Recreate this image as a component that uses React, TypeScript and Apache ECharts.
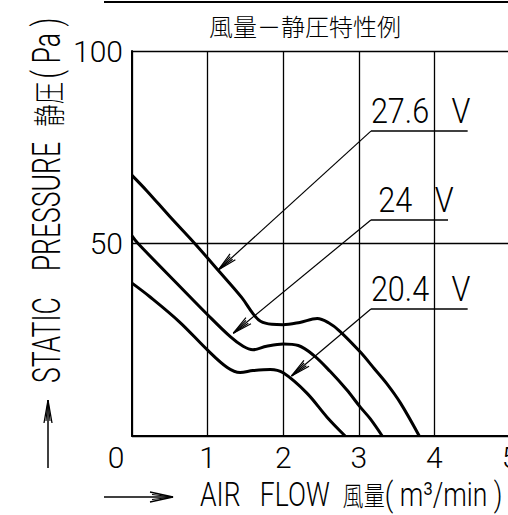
import React, { useEffect, useRef } from "react";
import * as echarts from "echarts";

// ---- data ----
const xMin = 0;
const xMax = 5;
const xInterval = 1;
const yMin = 0;
const yMax = 100;
const yInterval = 50;

const seriesNames = ["27.6 V", "24 V", "20.4 V"];

const flow276: number[][] = [
  [0, 67.7], [0.2, 63.6], [0.5, 57], [0.83, 50], [1.16, 42.6], [1.45, 36],
  [1.6, 31.8], [1.7, 29.8], [1.85, 29], [2.0, 28.9], [2.22, 29.5], [2.45, 30.5],
  [2.6, 29.4], [2.75, 27.2], [3.02, 21.8], [3.2, 17.6], [3.37, 13.6], [3.55, 8.6], [3.8, 0],
];
const flow24: number[][] = [
  [0, 52], [0.08, 50], [0.63, 38.9], [1.0, 31.5], [1.3, 25.8], [1.47, 23.3],
  [1.6, 22.4], [1.78, 23.3], [2.0, 23.9], [2.2, 23.5], [2.4, 21], [2.62, 16.8],
  [2.84, 12], [3.02, 7.5], [3.15, 4.5], [3.31, 0],
];
const flow204: number[][] = [
  [0, 39.7], [0.24, 36.1], [0.63, 29.6], [1.0, 22.3], [1.26, 17.8], [1.43, 16.5],
  [1.6, 17.0], [1.83, 17.3], [2.0, 16.4], [2.31, 11.2], [2.58, 4.9], [2.82, 0],
];

// annotation labels (text, arrow tip on curve, label anchor, underline end) in data units
const annText = ["27.6   V", " 24   V", "20.4   V"];
const annTip: number[][] = [[1.14, 43.1], [1.34, 26.7], [2.11, 15.6]];
const annLabel: number[][] = [[3.16, 79.2], [3.16, 56.1], [3.16, 33.0]];
const annEnd = [4.44, 4.18, 4.44];

const titleText = "風量－静圧特性例";
const yNameMain = "STATIC    PRESSURE  ";
const yNameCjk = "静圧";
const yNameUnit = "( Pa )";
const xNameMain = "AIR   FLOW  ";
const xNameCjk = "風量";
const xNameUnit = "( m³/min )";

const LAT_FONT = 'Roboto, "Liberation Sans Narrow", "DejaVu Sans Condensed", sans-serif';
const CJK_FONT = '"Noto Sans CJK JP", "Noto Sans CJK SC", sans-serif';

export default function App() {
  const ref = useRef<HTMLDivElement>(null);

  useEffect(() => {
    if (!ref.current) return;
    const chart = echarts.init(ref.current, null, { renderer: "svg" });

    const curves = [flow276, flow24, flow204];
    const annData = annTip.map((t, i) => [t[0], t[1], annLabel[i][0], annLabel[i][1], annEnd[i]]);

    const option: any = {
      animation: false,
      grid: { left: 132, right: -2, top: 51, bottom: 79, containLabel: false, outerBoundsMode: "none" },
      xAxis: {
        type: "value",
        min: xMin,
        max: xMax,
        interval: xInterval,
        axisLine: { show: true, onZero: false, lineStyle: { color: "#000", width: 2 } },
        axisTick: { show: false },
        splitLine: { show: true, lineStyle: { color: "#000", width: 1.3 } },
        axisLabel: {
          color: "#000",
          fontFamily: LAT_FONT,
          fontWeight: 300,
          fontSize: 30,
          margin: 6,
          hideOverlap: false,
          formatter: (v: number) => (v === 0 ? "{z|0}" : String(v)),
          rich: {
            z: { fontFamily: LAT_FONT, fontWeight: 300, fontSize: 30, color: "#000", padding: [0, 32, 0, 0] },
          },
        },
      },
      yAxis: {
        type: "value",
        min: yMin,
        max: yMax,
        interval: yInterval,
        axisLine: { show: true, onZero: false, lineStyle: { color: "#000", width: 2 } },
        axisTick: { show: false },
        splitLine: { show: true, lineStyle: { color: "#000", width: 1.3 } },
        axisLabel: {
          color: "#000",
          fontFamily: LAT_FONT,
          fontWeight: 300,
          fontSize: 30,
          margin: 9,
          showMinLabel: false,
        },
      },
      series: [
        ...curves.map((d, i) => ({
          type: "line",
          name: seriesNames[i],
          data: d,
          smooth: 0.35,
          symbol: "none",
          showSymbol: false,
          lineStyle: { color: "#000", width: 3 },
          z: 3,
        })),
        {
          type: "custom",
          name: "labels",
          data: annData,
          encode: { x: [0, 2, 4], y: [1, 3] },
          clip: false,
          silent: true,
          z: 4,
          renderItem: (params: any, api: any) => {
            const i = params.dataIndex;
            const tip = api.coord([api.value(0), api.value(1)]);
            const lab = api.coord([api.value(2), api.value(3)]);
            const end = api.coord([api.value(4), api.value(3)]);
            const dx = lab[0] - tip[0];
            const dy = lab[1] - tip[1];
            const L = Math.hypot(dx, dy);
            const ux = dx / L;
            const uy = dy / L;
            const barb = (a: number, len: number) => {
              const c = Math.cos(a);
              const s = Math.sin(a);
              return [tip[0] + len * (ux * c - uy * s), tip[1] + len * (ux * s + uy * c)];
            };
            const st = { stroke: "#000", lineWidth: 1.2, fill: "none" };
            return {
              type: "group",
              children: [
                { type: "line", shape: { x1: lab[0], y1: lab[1], x2: tip[0], y2: tip[1] }, style: st },
                { type: "line", shape: { x1: lab[0], y1: lab[1], x2: end[0], y2: end[1] }, style: { stroke: "#000", lineWidth: 1.5 } },
                { type: "polyline", shape: { points: [barb(0.2, 20), tip, barb(-0.2, 20)] }, style: st },
                { type: "polyline", shape: { points: [barb(0.1, 18), tip, barb(-0.1, 18)] }, style: st },
                {
                  type: "text",
                  x: lab[0],
                  y: lab[1] - 20,
                  scaleX: 0.85,
                  style: {
                    text: annText[i],
                    fill: "#000",
                    fontFamily: LAT_FONT,
                    fontWeight: 300,
                    fontSize: 36,
                    align: "left",
                    verticalAlign: "middle",
                  },
                },
              ],
            };
          },
        },
      ],
      graphic: [
        { type: "line", shape: { x1: 104, y1: 2, x2: 510, y2: 2 }, style: { stroke: "#000", lineWidth: 2 } },
        {
          type: "text",
          x: 305,
          y: 25,
          style: {
            text: titleText,
            fill: "#000",
            fontFamily: CJK_FONT,
            fontWeight: 300,
            fontSize: 24,
            align: "center",
            verticalAlign: "middle",
          },
        },
        {
          type: "text",
          x: 47,
          y: 383,
          rotation: Math.PI / 2,
          scaleX: 0.7,
          style: {
            text: yNameMain + "{c|" + yNameCjk + "}" + yNameUnit,
            fill: "#000",
            fontFamily: LAT_FONT,
            fontWeight: 300,
            fontSize: 38,
            lineHeight: 32,
            align: "left",
            verticalAlign: "middle",
            rich: { c: { fontFamily: CJK_FONT, fontWeight: 300, fontSize: 32, lineHeight: 32, fill: "#000", padding: [0, 5, 0, 3] } },
          },
        },
        {
          type: "text",
          x: 200,
          y: 494,
          scaleX: 0.78,
          style: {
            text: xNameMain + "{c|" + xNameCjk + "}" + xNameUnit,
            fill: "#000",
            fontFamily: LAT_FONT,
            fontWeight: 300,
            fontSize: 34,
            lineHeight: 28,
            align: "left",
            verticalAlign: "middle",
            rich: { c: { fontFamily: CJK_FONT, fontWeight: 300, fontSize: 27, lineHeight: 28, fill: "#000" } },
          },
        },
        { type: "line", shape: { x1: 48, y1: 468, x2: 48, y2: 400 }, style: { stroke: "#000", lineWidth: 1.5 } },
        { type: "polyline", shape: { points: [[44, 423], [48, 400], [52, 423]] }, style: { stroke: "#000", lineWidth: 1.3, fill: "none" } },
        { type: "polyline", shape: { points: [[46, 421], [48, 400], [50, 421]] }, style: { stroke: "#000", lineWidth: 1.1, fill: "none" } },
        { type: "line", shape: { x1: 104, y1: 497, x2: 173, y2: 497 }, style: { stroke: "#000", lineWidth: 1.5 } },
        { type: "polyline", shape: { points: [[150, 492], [173, 497], [150, 502]] }, style: { stroke: "#000", lineWidth: 1.3, fill: "none" } },
        { type: "polyline", shape: { points: [[152, 494.5], [173, 497], [152, 499.5]] }, style: { stroke: "#000", lineWidth: 1.1, fill: "none" } },
      ],
    };

    chart.setOption(option);
    return () => chart.dispose();
  }, []);

  return (
    <div
      ref={ref}
      style={{ position: "absolute", left: 0, top: 0, width: 508, height: 515, background: "#fff" }}
    />
  );
}
